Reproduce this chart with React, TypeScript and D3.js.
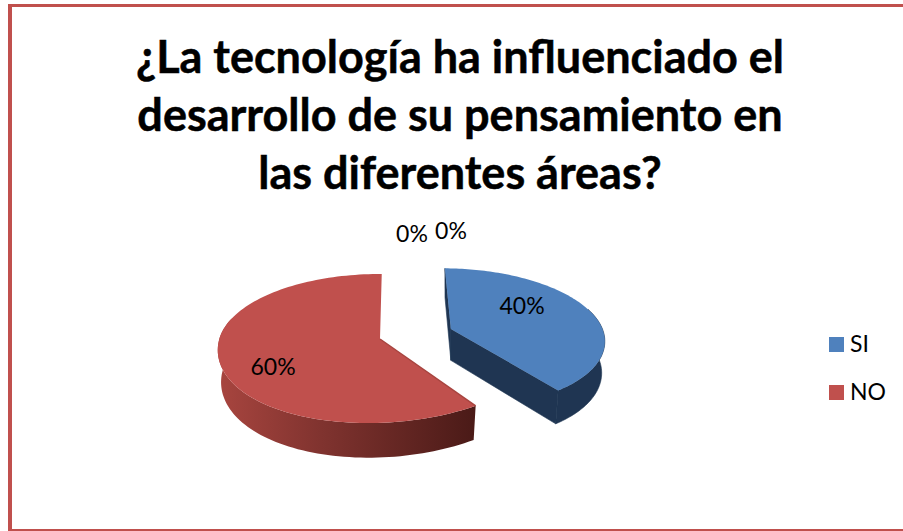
import React from "react";
import * as d3 from "d3";

const categories = ["SI", "NO", "Cat3", "Cat4"];
const values = [40, 60, 0, 0];
const colors = ["#4f81bd", "#c0504d"];
const wallColors = ["#1f3552", "url(#redWall)"];
const titleLines = [
  "¿La tecnología ha influenciado el",
  "desarrollo de su pensamiento en",
  "las diferentes áreas?",
];

const W = 903, H = 531;
const CX = 380, CY = 339, A = 73.3, B = 160.7, K = 0.1275, DEPTH = 32, G = 0.98;
const ROT = (0.7 * Math.PI) / 180;
const explode = [0.47, 0];
const sliceRadius = [0.96, 1];
const sliceShear = [6, -12];
const labelPos: [number, number][] = [[522, 305], [273, 366], [412, 233], [451, 230]];
const font = "Lato, Carlito, 'Open Sans', sans-serif";

type P = [number, number];
// Tilted-disc projection: unit-disc coordinates to screen, top face or bottom face
function project(u: number, v: number, bottom: boolean, shear: number): P {
  const s = 1 / (1 - K * v);
  const near = Math.max(v, 0);
  return [CX + B * u * s + shear * near * near, CY + A * v * s + (bottom ? DEPTH * s : 0)];
}

function App() {
  const pie = d3.pie<number>().sort(null).startAngle(ROT).endAngle(Math.PI * 2 + ROT);
  const arcs = pie(values);
  const line = d3.line<P>();

  const slices = arcs.slice(0, 2).map((a, i) => {
    const mid = (a.startAngle + a.endAngle) / 2;
    const ox = Math.sin(mid) * explode[i];
    const oy = -Math.cos(mid) * explode[i];
    const steps = d3.range(0, 121).map((k) => a.startAngle + ((a.endAngle - a.startAngle) * k) / 120);
    const pt = (t: number, bottom: boolean) => {
      const r = sliceRadius[i] * (bottom ? G : 1);
      return project(ox + r * Math.sin(t), oy - r * Math.cos(t), bottom, sliceShear[i]);
    };
    const topArc = steps.map((t) => pt(t, false));
    const apexTop = project(ox, oy, false, sliceShear[i]);
    const apexBot = project(ox, oy, true, sliceShear[i]);
    const front = steps.filter((t) => Math.cos(t) < 0.3);
    const rimTop = front.map((t) => pt(t, false));
    const rimBot = front.map((t) => pt(t, true)).reverse();
    return {
      face: line([apexTop, ...topArc])! + "Z",
      rim: line([...rimTop, ...rimBot])! + "Z",
      wallStart: line([apexTop, pt(a.startAngle, false), pt(a.startAngle, true), apexBot])! + "Z",
      wallEnd: line([apexTop, pt(a.endAngle, false), pt(a.endAngle, true), apexBot])! + "Z",
      edge: line([pt(a.startAngle, false), apexTop])!,
    };
  });

  const red = slices[1];
  const blue = slices[0];

  return (
    <svg width={W} height={H} style={{ position: "absolute", left: 0, top: 0, background: "#fff" }}>
      <defs>
        <linearGradient id="redWall" gradientUnits="userSpaceOnUse" x1={218} x2={476} y1={0} y2={0}>
          <stop offset="0" stopColor="#a8453f" />
          <stop offset="0.4" stopColor="#80332f" />
          <stop offset="1" stopColor="#4a1a17" />
        </linearGradient>
      </defs>

      <rect x={8} y={4} width={W} height={3} fill="#c0504d" />
      <rect x={8} y={4} width={4} height={H} fill="#c0504d" />
      <rect x={8} y={529} width={W} height={2} fill="#c0504d" />

      {titleLines.map((t, i) => (
        <text key={i} x={460} y={72.5 + i * 58} textAnchor="middle" fontFamily={font} fontWeight={700} fontSize={45} stroke="#000" strokeWidth={0.5} fill="#000">
          {t}
        </text>
      ))}

      <path d={red.rim} fill={wallColors[1]} />
      <path d={red.face} fill={colors[1]} />
      <path d={red.edge} fill="none" stroke="#a84540" strokeWidth={1.5} />

      <g fill={wallColors[0]} stroke={wallColors[0]} strokeWidth={0.6}>
        <path d={blue.wallStart} />
        <path d={blue.wallEnd} />
        <path d={blue.rim} />
      </g>
      <path d={blue.face} fill={colors[0]} />

      {values.map((v, i) => (
        <text key={i} x={labelPos[i][0]} y={labelPos[i][1]} textAnchor="middle" dominantBaseline="central" fontFamily={font} fontSize={23} fill="#000">
          {v}%
        </text>
      ))}

      {categories.slice(0, 2).map((c, i) => (
        <g key={c}>
          <rect x={829} y={337 + i * 48} width={15} height={15} fill={colors[i]} />
          <text x={850} y={352 + i * 48} fontFamily={font} fontSize={23} fill="#000">{c}</text>
        </g>
      ))}
    </svg>
  );
}

export default App;
